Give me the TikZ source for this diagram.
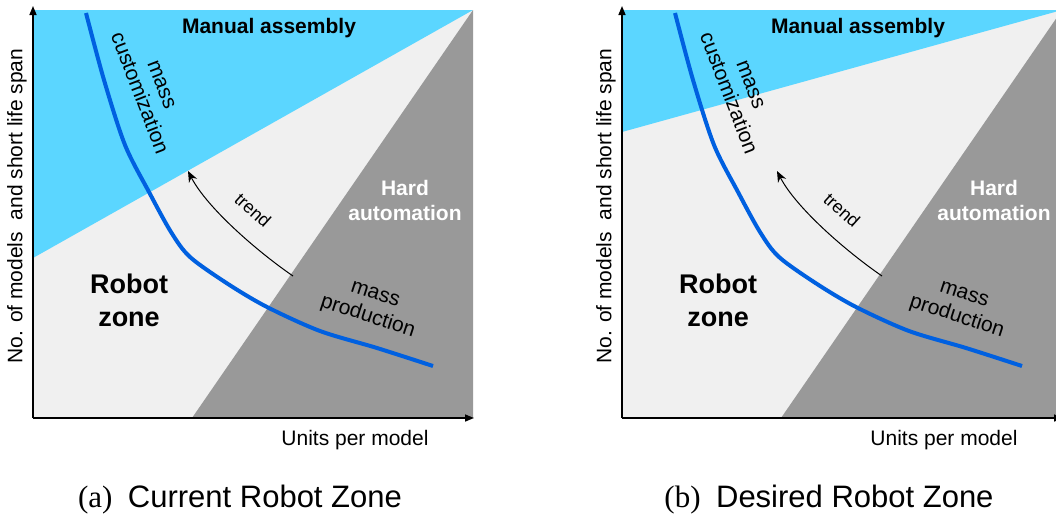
\documentclass[tikz,border=0pt]{standalone}
\usepackage{fontspec}
\setmainfont{Liberation Sans}
\newfontfamily\capserif{Liberation Serif}
\usetikzlibrary{arrows.meta}
\definecolor{manblue}{RGB}{91,214,255}
\definecolor{robgray}{RGB}{240,240,240}
\definecolor{hardgray}{RGB}{153,153,153}
\definecolor{curveblue}{RGB}{0,96,224}
\tikzset{
  axisline/.style={line width=1.5pt,-{Triangle[length=9pt,width=7pt]}},
  regionlabel/.style={font=\fontsize{21}{25}\selectfont\bfseries,align=center,inner sep=0pt},
  curvelabel/.style={font=\fontsize{21}{24}\selectfont,align=center,inner sep=0pt},
  axislabel/.style={font=\fontsize{21}{25}\selectfont,inner sep=0pt},
  trendarrow/.style={line width=1pt,-{Stealth[length=11pt,width=9pt]}},
  massline/.style={curveblue,line width=4pt},
  captionlabel/.style={font=\fontsize{31}{36}\selectfont,inner sep=0pt}
}
\newcommand\drawpanel[4]{% #1 x shift, #2 lower y of blue region, #3 prefix, #4 caption
\begin{scope}[xshift=#1pt]
  \fill[robgray] (33,10) rectangle (473,418);
  \fill[manblue] (33,10) -- (473,10) -- (33,#2) -- cycle;
  \fill[hardgray] (473,10) -- (473,418) -- (192,418) -- cycle;
  \draw[massline] plot[smooth,tension=0.5] coordinates {(86,13) (104,80) (125,145) (149,192) (171,232) (190,257) (228,284) (267,307) (320,331) (377,348) (433,366)};
  \coordinate (#3o) at (33,418);
  \coordinate (#3ytop) at (33,6);
  \coordinate (#3xend) at (474,418);
  \draw[axisline] (#3o) -- (#3ytop);
  \draw[axisline] (#3o) -- (#3xend);
  \coordinate (#3ts) at (293,276);
  \coordinate (#3te) at (188,171);
  \draw[trendarrow] (#3ts) .. controls (258,252) and (207,208) .. (#3te);
  \node[regionlabel] (#3man) at (269,28) {Manual assembly};
  \node[regionlabel,text=white] (#3hard) at (405,200) {Hard\\automation};
  \node[regionlabel,font=\fontsize{27}{33}\selectfont\bfseries] (#3robot) at (129,300) {Robot\\zone};
  \node[curvelabel,rotate=-69] (#3mc) at (150,89) {mass\\customization};
  \node[curvelabel,rotate=-18] (#3mp) at (371,307) {mass\\production};
  \node[curvelabel,font=\fontsize{18}{20}\selectfont,rotate=-42] (#3trend) at (253,210) {trend};
  \node[axislabel] (#3xl) at (355,440) {Units per model};
  \node[axislabel,rotate=90] (#3yl) at (17,206) {No. of models\ \ and short life span};
  \node[captionlabel] (#3cap) at (240,500) {#4};
\end{scope}}
\begin{document}
\begin{tikzpicture}[x=1pt,y=-1pt]
  \useasboundingbox (0,0) rectangle (1056,520);
  \clip (0,0) rectangle (1056,520);
  \drawpanel{0}{258}{a}{{\capserif (a)}\enspace Current Robot Zone}
  \drawpanel{589}{132}{b}{{\capserif (b)}\enspace Desired Robot Zone}
\end{tikzpicture}
\end{document}
